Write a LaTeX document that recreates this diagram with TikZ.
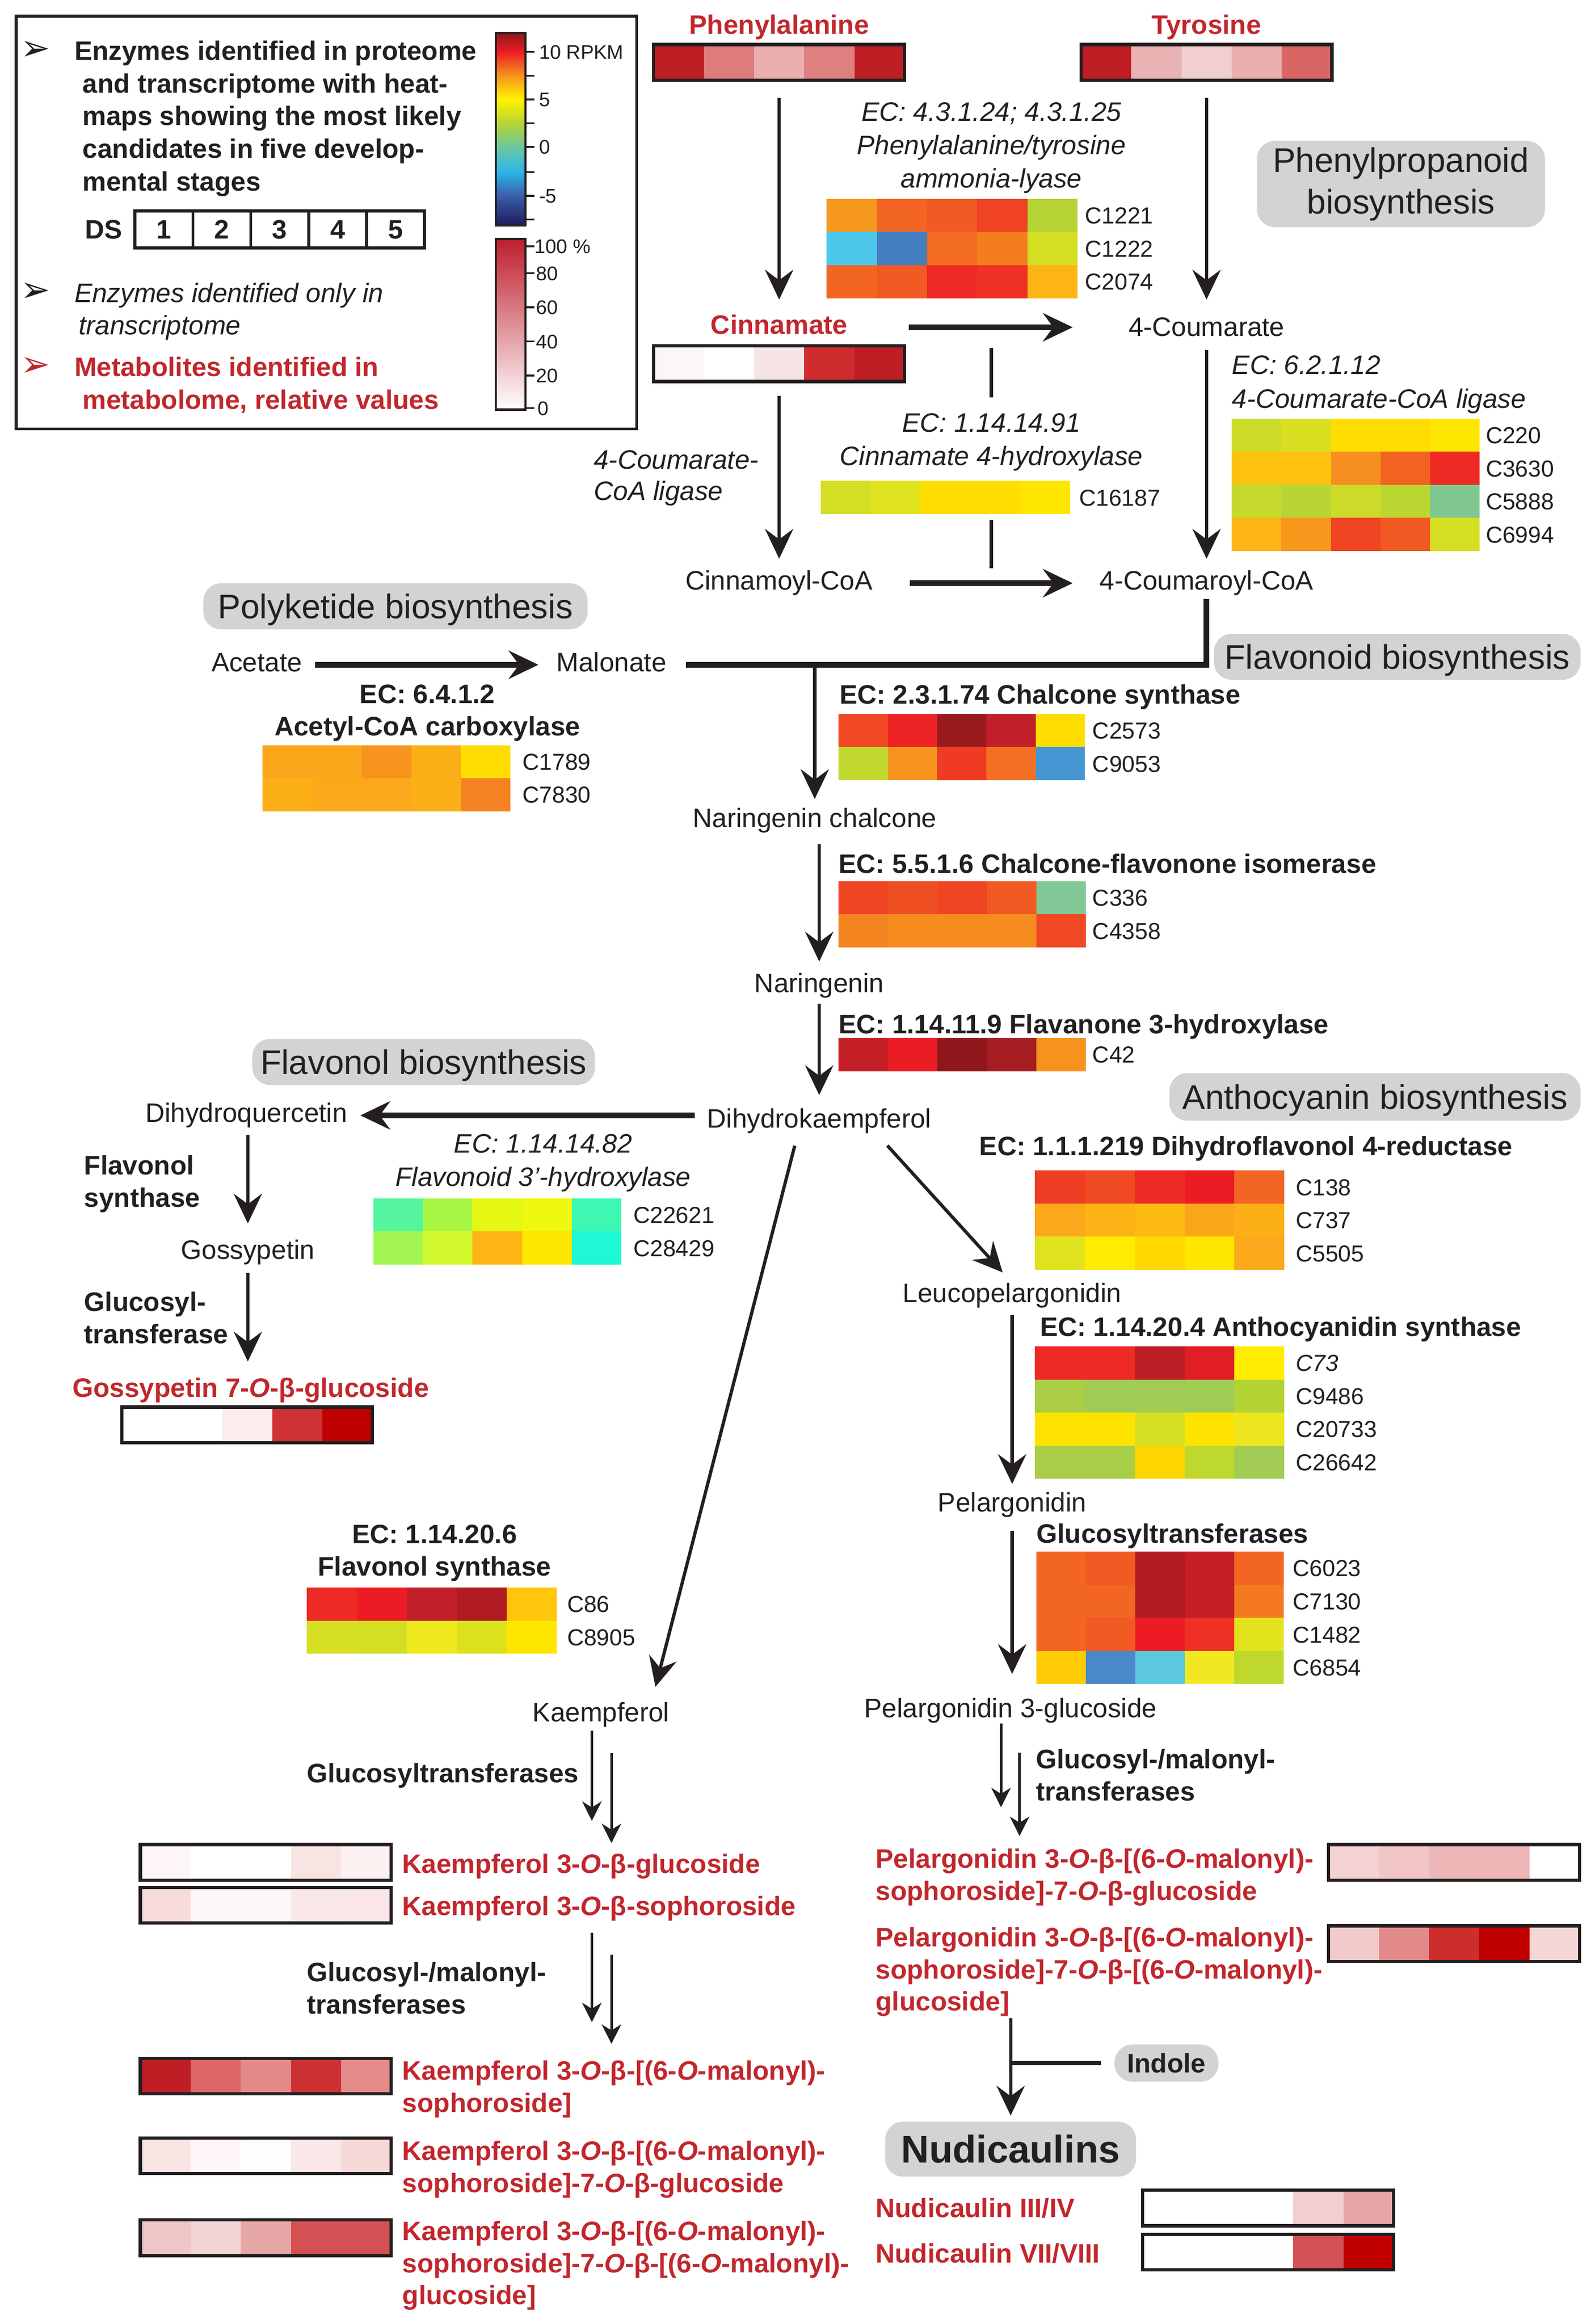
\documentclass[tikz,border=0pt]{standalone}
\usepackage{fontspec}
\setmainfont{Liberation Sans}
\newfontfamily\dingfont{DejaVu Sans}
\usetikzlibrary{arrows.meta}

\definecolor{ink}{HTML}{231F20}
\definecolor{metred}{HTML}{C1272D}
\definecolor{boxgray}{HTML}{D1D3D4}
\definecolor{pcttop}{HTML}{BE1E2D}
\definecolor{rk0}{HTML}{1C1A5E}
\definecolor{rk1}{HTML}{3B5DAA}
\definecolor{rk2}{HTML}{2BB5E8}
\definecolor{rk3}{HTML}{6DC7A0}
\definecolor{rk4}{HTML}{B8D432}
\definecolor{rk5}{HTML}{FFF200}
\definecolor{rk6}{HTML}{F7941D}
\definecolor{rk7}{HTML}{ED1C24}
\definecolor{rk8}{HTML}{8B1A1A}
\pgfdeclareverticalshading{rpkmshade}{100bp}{color(0bp)=(rk0); color(25bp)=(rk0);
  color(32.7bp)=(rk1); color(38.8bp)=(rk2); color(45.4bp)=(rk3); color(51.5bp)=(rk4);
  color(57.7bp)=(rk5); color(63.8bp)=(rk6); color(70bp)=(rk7); color(75bp)=(rk8);
  color(100bp)=(rk8)}

\newcommand{\fsz}[2]{\fontsize{#1}{#2}\selectfont}

%% heat map: left, top, cell width, rows of hex colours
\newcommand{\heatmap}[4]{%
  \foreach \hrow [count=\j from 0] in {#4} {
    \foreach \hex [count=\i from 0] in \hrow {
      \definecolor{cell}{HTML}{\hex}
      \fill[cell] (#1+\i*#3, #2+\j*22.3) rectangle +(#3, 22.3);
    }
  }
}
%% metabolite bar: name, left, top, hex colours
\newcommand{\metbar}[4]{%
  \foreach \hex [count=\i from 0] in {#4} {
    \definecolor{cell}{HTML}{\hex}
    \fill[cell] (#2+\i*33.8, #3) rectangle +(33.8, 24);
  }
  \node[barframe] (#1) at (#2+84.5, #3+12) {};
}

\tikzset{
  rxn/.style={draw=ink, line width=2.2pt, -{Stealth[length=20pt,width=19pt,inset=7pt]}},
  bigrxn/.style={rxn, line width=3.8pt},
  twin/.style={draw=ink, line width=1.8pt, -{Stealth[length=13pt,width=13pt,inset=4pt]}},
  rline/.style={draw=ink, line width=2.2pt},
  met/.style={font=\fsz{18}{21.6}, text=ink, inner sep=0pt, text height=13pt, text depth=4pt, anchor=base},
  redmet/.style={met, font=\fsz{18}{21.6}\bfseries, text=metred},
  redtxt/.style={font=\fsz{18}{21.6}\bfseries, text=metred, inner sep=0pt},
  ecb/.style={font=\fsz{18}{21.6}\bfseries, text=ink, inner sep=0pt},
  eci/.style={font=\fsz{18}{22.4}\itshape, text=ink, inner sep=0pt},
  clbl/.style={font=\fsz{15.6}{18}, text=ink, inner sep=0pt, anchor=base west},
  cbl/.style={font=\fsz{13.3}{16}, text=ink, inner sep=0pt, anchor=base west},
  bullet/.style={font=\fsz{24}{28}\dingfont, text=ink, inner sep=0pt},
  gbox/.style={fill=boxgray, rounded corners=12pt, text=ink, inner sep=0pt, font=\fsz{23}{28}},
  barframe/.style={draw=ink, line width=2.2pt, minimum width=169pt, minimum height=24pt, inner sep=0pt},
}

\begin{document}
\begin{tikzpicture}[x=1pt, y=-1pt]
  \useasboundingbox (0,0) rectangle (1072,1565.8);
  \fill[white] (0,0) rectangle (1072,1565.8);

  %% legend
  \draw[ink, line width=2pt] (11,11) rectangle (429,289);
  \node[bullet] (bul1) at (24,34) {➢};
  \node[bullet] (bul2) at (24,197) {➢};
  \node[bullet, text=metred] (bul3) at (24,247) {➢};
  \node[ecb, font=\fsz{18}{22}\bfseries, align=left, anchor=north west] (legprot) at (50,27.3)
    {Enzymes identified in proteome\\\hspace*{5.5pt}and transcriptome with heat-\\\hspace*{5.5pt}maps showing the most likely\\\hspace*{5.5pt}candidates in five develop-\\\hspace*{5.5pt}mental stages};
  \node[eci, font=\fsz{18}{22}\itshape, align=left, anchor=north west] (legtrans) at (50,190.3)
    {Enzymes identified only in\\\hspace*{3pt}transcriptome};
  \node[redtxt, font=\fsz{18}{22}\bfseries, align=left, anchor=north west] (legmet) at (50,240.3)
    {Metabolites identified in\\\hspace*{5.5pt}metabolome, relative values};
  \node[ecb, anchor=base] (ds) at (70,160.9) {DS};
  \draw[ink, line width=2pt] (91,142) rectangle (286,167);
  \foreach \k in {1,...,4} \draw[ink, line width=2pt] (91+\k*39,142) -- (91+\k*39,167);
  \foreach \k in {1,...,5} \node[ecb, anchor=base] (ds\k) at (71.5+\k*39,160.9) {\k};

  %% colour scales
  \shade[shading=rpkmshade] (334,22) rectangle (354,152);
  \draw[ink, line width=1.5pt] (334,22) rectangle (354,152);
  \foreach \t in {35,51,67,83,99,116,132,148} \draw[ink, line width=1.2pt] (354,\t) -- (360,\t);
  \node[cbl] (rpkmten) at (363,39.8) {10 RPKM};
  \node[cbl] (rpkmfive) at (363,71.8) {5};
  \node[cbl] (rpkmzero) at (363,103.8) {0};
  \node[cbl] (rpkmneg) at (363,136.8) {-5};
  \shade[top color=pcttop, bottom color=white] (334,161) rectangle (354,276);
  \draw[ink, line width=1.5pt] (334,161) rectangle (354,276);
  \foreach \t in {166,184,207,230,253,275} \draw[ink, line width=1.2pt] (354,\t) -- (360,\t);
  \node[cbl] (pctfull) at (360,170.8) {100 \%};
  \node[cbl] (pcteighty) at (361,188.8) {80};
  \node[cbl] (pctsixty) at (361,211.8) {60};
  \node[cbl] (pctforty) at (361,234.8) {40};
  \node[cbl] (pcttwenty) at (361,257.8) {20};
  \node[cbl] (pctzero) at (362,279.8) {0};

  %% pathway titles
  \node[gbox, minimum width=194pt, minimum height=58pt, align=center] (ppbox) at (944,124) {Phenylpropanoid\\biosynthesis};
  \node[gbox, minimum width=259pt, minimum height=31pt, text height=16.5pt, text depth=0pt] (pkbox) at (266.5,408.5) {Polyketide biosynthesis};
  \node[gbox, minimum width=247pt, minimum height=31pt, text height=16.5pt, text depth=0pt] (fvbox) at (941.5,442.5) {Flavonoid biosynthesis};
  \node[gbox, minimum width=231pt, minimum height=31pt, text height=16.5pt, text depth=0pt] (flbox) at (285.5,715.5) {Flavonol biosynthesis};
  \node[gbox, minimum width=277pt, minimum height=32pt, text height=16.5pt, text depth=0pt] (anbox) at (926.5,739) {Anthocyanin biosynthesis};
  \node[gbox, font=\fsz{18}{21.6}\bfseries, minimum width=70pt, minimum height=25pt, text height=12.9pt, text depth=0pt] (indole) at (786,1390) {Indole};
  \node[gbox, font=\fsz{26}{30}\bfseries, minimum width=169pt, minimum height=37pt, text height=18.6pt, text depth=0pt] (nudi) at (681,1448) {Nudicaulins};

  %% heat maps
  \heatmap{557}{134}{33.8}{{F7991F,F26522,F15A22,EF4323,B5D334},{4DC8EB,437FC1,F26B22,F47D20,D4DF23},{F26522,F15A22,EE2A24,EE3124,FDB515}}
  \heatmap{553}{324}{33.6}{{D4DF23,DFE31F,FFDD00,FFDD00,FFE600}}
  \heatmap{830}{282}{33.4}{{CDDC28,D9E021,FFDD00,FFDD00,FFE600},{FDC20E,FDC20E,F68F1F,F26322,EE2A24},{C5D92D,B9D435,CCDB29,BCD631,7FC78F},{FDB515,F7991D,EF4523,F15A22,D4DF23}}
  \heatmap{177}{502}{33.4}{{FAA61A,FAA61A,F7941D,FBAF17,FFDD00},{FCAF17,FBA81B,FBA81B,FCAF17,F58220}}
  \heatmap{565}{481}{33.2}{{EF4823,ED2224,9A1B1F,C1202A,FFDD00},{C1D82F,F7941E,EF3B24,F36F21,4596D3}}
  \heatmap{565}{593.6}{33.3}{{EF4523,F04E23,EF4523,F05A22,82C896},{F58520,F68B1F,F68B1F,F68B1F,EF4823}}
  \heatmap{565}{699.4}{33.3}{{C41E26,EC1C24,8F171B,A51C21,F6921E}}
  \heatmap{251.6}{807.4}{33.4}{{55F5A0,A8F543,E5F811,EFF80F,3DF7B3},{A2F550,D2F92D,FDB515,FFE600,1FF8D5}}
  \heatmap{697.4}{788.6}{33.6}{{EE3E23,F04A22,EE2A24,EC1C24,F26522},{FBA81B,FCB316,FDBA12,FAA61A,FCAF17},{DFE31F,FFEC00,FFD900,FFE600,FBA81B}}
  \heatmap{697.4}{907.1}{33.6}{{EE2A24,EE2A24,BB1E24,E11D25,FFEC00},{ACCE46,A0CB55,A0CB55,A0CB55,B3D335},{FFE300,FFE300,D7DF23,FFE300,EDE51D},{A8CE48,A8CE48,FFD500,BED82E,A2CC54}}
  \heatmap{206.8}{1069.6}{33.7}{{EE2A24,EC1C24,C1202A,B01C22,FFC60B},{D7DF23,D4DF23,EFE91F,DCE11E,FFE600}}
  \heatmap{698.4}{1045.4}{33.3}{{F26522,F15A22,B01C22,C41E26,F26522},{F26522,F26522,B01C22,C41E26,F47920},{F26522,F15A22,ED1C24,EE3124,E2E31C},{FFCB05,4A89C8,5BC8E0,F1E822,BED82E}}

  %% contig labels
  \node[clbl] (c1221) at (731,150.8) {C1221};
  \node[clbl] (c1222) at (731,173.1) {C1222};
  \node[clbl] (c2074) at (731,195.4) {C2074};
  \node[clbl] (c16187) at (727,341) {C16187};
  \node[clbl] (c220) at (1001,298.8) {C220};
  \node[clbl] (c3630) at (1001,321.1) {C3630};
  \node[clbl] (c5888) at (1001,343.4) {C5888};
  \node[clbl] (c6994) at (1001,365.7) {C6994};
  \node[clbl] (c1789) at (352,518.8) {C1789};
  \node[clbl] (c7830) at (352,541.1) {C7830};
  \node[clbl] (c2573) at (736,497.8) {C2573};
  \node[clbl] (c9053) at (736,520.1) {C9053};
  \node[clbl] (c336) at (736,610.4) {C336};
  \node[clbl] (c4358) at (736,632.7) {C4358};
  \node[clbl] (c42) at (736,716.2) {C42};
  \node[clbl] (c22621) at (426.6,824.2) {C22621};
  \node[clbl] (c28429) at (426.6,846.5) {C28429};
  \node[clbl] (c138) at (873,805.4) {C138};
  \node[clbl] (c737) at (873,827.7) {C737};
  \node[clbl] (c5505) at (873,850) {C5505};
  \node[clbl, font=\fsz{15.6}{18}\itshape] (c73) at (873,923.9) {C73};
  \node[clbl] (c9486) at (873,946.2) {C9486};
  \node[clbl] (c20733) at (873,968.5) {C20733};
  \node[clbl] (c26642) at (873,990.8) {C26642};
  \node[clbl] (c86) at (382,1086.4) {C86};
  \node[clbl] (c8905) at (382,1108.7) {C8905};
  \node[clbl] (c6023) at (871,1062.2) {C6023};
  \node[clbl] (c7130) at (871,1084.5) {C7130};
  \node[clbl] (c1482) at (871,1106.8) {C1482};
  \node[clbl] (c6854) at (871,1129.1) {C6854};

  %% enzymes
  \node[eci, align=center, anchor=north] (palec) at (668,68.9) {EC: 4.3.1.24; 4.3.1.25\\Phenylalanine/tyrosine\\ammonia-lyase};
  \node[eci, align=center, anchor=north] (c4hec) at (668,278.3) {EC: 1.14.14.91\\Cinnamate 4-hydroxylase};
  \node[eci, font=\fsz{18}{23}\itshape, align=left, anchor=north west] (clec) at (830,239.3) {EC: 6.2.1.12\\4-Coumarate-CoA ligase};
  \node[eci, font=\fsz{18}{21}\itshape, align=left, anchor=north west] (clside) at (400,303.3) {4-Coumarate-\\CoA ligase};
  \node[ecb, align=center, anchor=north] (accec) at (288,461.3) {EC: 6.4.1.2\\Acetyl-CoA carboxylase};
  \node[ecb, anchor=base west] (chsec) at (565.6,474.4) {EC: 2.3.1.74 Chalcone synthase};
  \node[ecb, anchor=base west] (chiec) at (565,588.4) {EC: 5.5.1.6 Chalcone-flavonone isomerase};
  \node[ecb, anchor=base west] (f3hec) at (565,696.4) {EC: 1.14.11.9 Flavanone 3-hydroxylase};
  \node[eci, align=center, anchor=north] (f3phec) at (366,764) {EC: 1.14.14.82\\Flavonoid 3’-hydroxylase};
  \node[ecb, align=left, anchor=north west] (flsside) at (56.6,778.3) {Flavonol\\synthase};
  \node[ecb, align=left, anchor=north west] (gtside) at (56.6,870.3) {Glucosyl-\\transferase};
  \node[ecb, anchor=base west] (dfrec) at (659.8,778.4) {EC: 1.1.1.219 Dihydroflavonol 4-reductase};
  \node[ecb, anchor=base west] (ansec) at (700.7,900.2) {EC: 1.14.20.4 Anthocyanidin synthase};
  \node[ecb, align=center, anchor=north] (flsec) at (292.8,1027.2) {EC: 1.14.20.6\\Flavonol synthase};
  \node[ecb, anchor=base west] (gtec) at (698.4,1039.7) {Glucosyltransferases};
  \node[ecb, anchor=base west] (kgt) at (206.7,1201) {Glucosyltransferases};
  \node[ecb, align=left, anchor=north west] (kgmt) at (206.7,1321.9) {Glucosyl-/malonyl-\\transferases};
  \node[ecb, align=left, anchor=north west] (pgmt) at (698,1178.3) {Glucosyl-/malonyl-\\transferases};

  %% metabolites
  \node[redmet] (phe) at (525,23) {Phenylalanine};
  \metbar{phebar}{440.5}{30}{BE1E24,DE7B7B,EAB0B0,DE8080,BE1E24}
  \node[redmet] (tyr) at (813,23) {Tyrosine};
  \metbar{tyrbar}{728.5}{30}{BE1E24,EAB3B3,F2CFCF,EAB0B0,DA6565}
  \node[redmet] (cinn) at (525,225) {Cinnamate};
  \metbar{cinnbar}{440.5}{233}{FDF6F6,FFFFFF,F6E3E3,CF2C2E,BD1E24}
  \node[met] (coum) at (813,226.4) {4-Coumarate};
  \node[met] (cinncoa) at (525,397.4) {Cinnamoyl-CoA};
  \node[met] (coumcoa) at (813,397.4) {4-Coumaroyl-CoA};
  \node[met] (acet) at (173,452.4) {Acetate};
  \node[met] (malo) at (412,452.4) {Malonate};
  \node[met] (narch) at (549,557.5) {Naringenin chalcone};
  \node[met] (nar) at (552,668.5) {Naringenin};
  \node[met] (dhk) at (552,760) {Dihydrokaempferol};
  \node[met] (dhq) at (166,756) {Dihydroquercetin};
  \node[met] (goss) at (167,848.5) {Gossypetin};
  \node[redtxt, anchor=base] (gossg) at (169,941.5) {Gossypetin 7-\textit{O}-β-glucoside};
  \metbar{gossbar}{82}{948}{FFFFFF,FFFFFF,FCEEEE,CE3234,BE0000}
  \node[met] (leuco) at (682,877.5) {Leucopelargonidin};
  \node[met] (pel) at (682,1018.5) {Pelargonidin};
  \node[met] (pelg) at (681,1157) {Pelargonidin 3-glucoside};
  \node[met] (kae) at (405,1160) {Kaempferol};

  \node[redtxt, anchor=base west] (k1) at (271,1261.9) {Kaempferol 3-\textit{O}-β-glucoside};
  \metbar{k1bar}{94.6}{1242.8}{FEF6F6,FFFFFF,FFFFFF,F9E4E4,FCF2F2}
  \node[redtxt, anchor=base west] (k2) at (271,1290.4) {Kaempferol 3-\textit{O}-β-sophoroside};
  \metbar{k2bar}{94.6}{1271.7}{F8DCDC,FEF7F7,FEF7F7,FAE8E8,FAE6E6}
  \node[redtxt, align=left, anchor=north west] (k3) at (271,1388.3)
    {Kaempferol 3-\textit{O}-β-[(6-\textit{O}-malonyl)-\\sophoroside]};
  \metbar{k3bar}{94.6}{1386.8}{BE1E24,DC6566,E28A8A,CC3234,E38A8A}
  \node[redtxt, align=left, anchor=north west] (k4) at (271,1442.3)
    {Kaempferol 3-\textit{O}-β-[(6-\textit{O}-malonyl)-\\sophoroside]-7-\textit{O}-β-glucoside};
  \metbar{k4bar}{94.6}{1440.4}{F9E4E4,FEF6F6,FFFCFC,FAE8E8,F6DADA}
  \node[redtxt, align=left, anchor=north west] (k5) at (271,1496.3)
    {Kaempferol 3-\textit{O}-β-[(6-\textit{O}-malonyl)-\\sophoroside]-7-\textit{O}-β-[(6-\textit{O}-malonyl)-\\glucoside]};
  \metbar{k5bar}{94.6}{1495.7}{EEC6C6,F2D4D4,E7A7A7,D35153,D35153}
  \node[redtxt, align=left, anchor=north west] (p1) at (589.9,1245.3)
    {Pelargonidin 3-\textit{O}-β-[(6-\textit{O}-malonyl)-\\sophoroside]-7-\textit{O}-β-glucoside};
  \metbar{p1bar}{895.3}{1242.8}{F5D2D2,F2C6C6,EEB8B8,EEB6B6,FFFFFF}
  \node[redtxt, align=left, anchor=north west] (p2) at (589.9,1298.3)
    {Pelargonidin 3-\textit{O}-β-[(6-\textit{O}-malonyl)-\\sophoroside]-7-\textit{O}-β-[(6-\textit{O}-malonyl)-\\glucoside]};
  \metbar{p2bar}{895.3}{1297.5}{F2CACA,E28A8A,CC2E2E,C00000,F5D6D6}
  \node[redtxt, anchor=base west] (n1) at (589.9,1493.9) {Nudicaulin III/IV};
  \metbar{n1bar}{770}{1475.6}{FFFFFF,FFFFFF,FFFFFF,F2CFCF,E6A5A5}
  \node[redtxt, anchor=base west] (n2) at (589.9,1524.4) {Nudicaulin VII/VIII};
  \metbar{n2bar}{770}{1505.4}{FFFFFF,FFFFFF,FFFDFD,D35153,C00000}

  %% reactions
  \draw[rxn, shorten <=11pt, shorten >=10pt] (phebar.south) -- (phebar.south |- cinn.north);
  \draw[rxn, shorten <=11pt, shorten >=11.4pt] (tyrbar.south) -- (tyrbar.south |- coum.north);
  \draw[bigrxn, shorten <=41pt, shorten >=37.5pt] (cinn.east) -- (cinn.east -| coum.west);
  \draw[rxn, shorten <=8.5pt, shorten >=7.8pt] (cinnbar.south) -- (cinnbar.south |- cinncoa.north);
  \draw[rxn, shorten <=5.3pt, shorten >=7.8pt] (coum.south) -- (coumcoa.north);
  \draw[bigrxn, shorten <=25pt, shorten >=18pt] (cinncoa.east) -- (coumcoa.west);
  \draw[rline, shorten <=14pt, shorten >=10.7pt] (c4hec.north |- cinn.east) -- (c4hec.north);
  \draw[rline, shorten <=9.9pt, shorten >=9pt] (c4hec.north |- cinncoa.east) -- (c4hec.north |- c16187.south);
  \draw[bigrxn, shorten <=8.5pt, shorten >=12pt] (acet.east) -- (malo.west);
  \draw[rline, line width=3.8pt, shorten <=2pt, shorten >=13pt] (coumcoa.south) |- (malo.east);
  \coordinate (fork) at (narch.north |- malo.east);
  \draw[rxn, shorten >=6pt] (fork) -- (narch.north);
  \draw[rxn, shorten <=7pt, shorten >=7.5pt] (narch.south -| nar.north) -- (nar.north);
  \draw[rxn, shorten <=3.5pt, shorten >=9pt] (nar.south) -- (dhk.north);
  \draw[bigrxn, shorten <=8pt, shorten >=8.6pt] (dhq.east -| dhk.west) -- (dhq.east);
  \draw[rxn, shorten <=4.4pt, shorten >=11pt] (dhq.south -| goss.north) -- (goss.north);
  \draw[rxn, shorten <=5pt, shorten >=11pt] (goss.south) -- (goss.south |- gossg.north);
  \draw[rxn, shorten <=8pt, shorten >=10.6pt] ([xshift=-14.5pt]dhk.south) -- ([xshift=34pt]kae.north);
  \draw[rxn, shorten <=10.3pt, shorten >=9.5pt] ([xshift=39pt]dhk.south) -- (leuco.north);
  \draw[rxn, shorten <=4.2pt, shorten >=5.5pt] (leuco.south) -- (pel.north);
  \draw[rxn, shorten <=8.5pt, shorten >=16pt] (pel.south) -- (pel.south |- pelg.north);

  \draw[twin, shorten <=2pt, shorten >=21.9pt] ([xshift=-6.2pt]kae.south) -- ([xshift=-6.2pt]kae.south |- k1.north);
  \draw[twin, shorten <=17pt, shorten >=6.9pt] ([xshift=7pt]kae.south) -- ([xshift=7pt]kae.south |- k1.north);
  \draw[twin, shorten <=7.9pt, shorten >=25.9pt] ([xshift=-6.2pt]kae.south |- k2.south) -- ([xshift=-6.2pt]kae.south |- k3.north);
  \draw[twin, shorten <=22.6pt, shorten >=11.3pt] ([xshift=7pt]kae.south |- k2.south) -- ([xshift=7pt]kae.south |- k3.north);
  \draw[twin, shorten >=27.7pt] ([xshift=-6.5pt]pelg.south) -- ([xshift=-6.5pt]pelg.south |- p1.north);
  \draw[twin, shorten <=19.5pt, shorten >=8.3pt] ([xshift=6pt]pelg.south) -- ([xshift=6pt]pelg.south |- p1.north);

  \draw[rxn, shorten <=1pt, shorten >=4pt] (nudi.north |- p2.south) -- (nudi.north);
  \draw[rline, line width=2.6pt, shorten <=9pt] (indole.west) -- (indole.west -| nudi.north);

\end{tikzpicture}
\end{document}
